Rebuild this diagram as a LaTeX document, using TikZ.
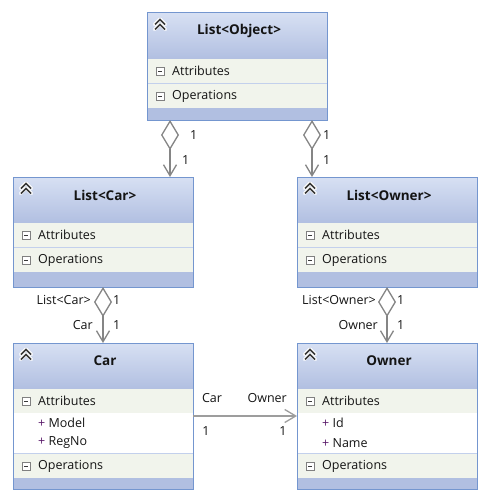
\documentclass[tikz,border=0pt]{standalone}
\usepackage{fontspec}
\setmainfont{Open Sans}
\usetikzlibrary{arrows.meta}
\definecolor{boxline}{HTML}{7496CF}
\definecolor{headtop}{HTML}{D7E0F3}
\definecolor{headbot}{HTML}{B1BFE1}
\definecolor{rowfill}{HTML}{F1F4EC}
\definecolor{rowline}{HTML}{C3D0EC}
\definecolor{linkgray}{HTML}{858585}
\definecolor{icongray}{HTML}{3A3A3A}
\definecolor{pluscol}{HTML}{5A1A6A}
\definecolor{txt}{HTML}{141414}
% #1 name, #2 left, #3 top, #4 height, #5 member space, #6 title
\newcommand{\classbox}[6]{
  \shade[top color=headtop, bottom color=headbot] (#2,#3) rectangle (#2+180,#3+46);
  \fill[rowfill] (#2,#3+46) rectangle (#2+180,#3+70);
  \draw[rowline] (#2,#3+70+#5) -- (#2+180,#3+70+#5);
  \fill[rowfill] (#2,#3+71+#5) rectangle (#2+180,#3+95+#5);
  \fill[headbot] (#2,#3+95+#5) rectangle (#2+180,#3+#4);
  \foreach \d in {0,5}{
    \draw[white, line width=3.4pt, line cap=round, line join=round] (#2+7.5,#3+11.5+\d) -- (#2+13,#3+6+\d) -- (#2+18.5,#3+11.5+\d);
    \draw[icongray, line width=1.6pt] (#2+8,#3+11.5+\d) -- (#2+13,#3+6.5+\d) -- (#2+18,#3+11.5+\d);
  }
  \foreach \r in {58,83+#5}{
    \draw[gray, fill=white] (#2+9,#3+\r-4) rectangle (#2+17,#3+\r+4);
    \draw[icongray] (#2+11,#3+\r) -- (#2+15,#3+\r);
  }
  \node[anchor=west] (#1a) at (#2+24,#3+58) {Attributes};
  \node[anchor=west] (#1o) at (#2+24,#3+83+#5) {Operations};
  \node[font=\fontsize{13.5}{15}\selectfont\bfseries] (#1t) at (#2+92,#3+18) {#6};
  \node[draw=boxline, line width=1pt, inner sep=0pt, outer sep=0pt, minimum width=180pt, minimum height=#4pt, anchor=north west] (#1) at (#2,#3) {};
}

\begin{document}
\begin{tikzpicture}[x=1pt,y=-1pt]
\tikzstyle{every node}=[font=\fontsize{12.5}{14}\selectfont, text=txt, inner sep=1pt]
\tikzstyle{agg}=[draw=linkgray, line width=1.3pt, {Diamond[open, fill=white, length=30pt, width=18pt]}-{Straight Barb[length=11pt, width=13pt]}]
\tikzstyle{assoc}=[draw=linkgray!80, line width=1.3pt, -{Straight Barb[length=11pt, width=13pt]}]
\useasboundingbox (0,0) rectangle (489,500);
\classbox{obj}{147}{13}{107}{0}{List<Object>}
\classbox{lcar}{13}{177}{110}{0}{List<Car>}
\classbox{lown}{297}{177}{110}{0}{List<Owner>}
\classbox{car}{13}{343}{146}{40}{Car}
\classbox{own}{297}{343}{146}{40}{Owner}
\node[anchor=west] (m1) at (37,423) {\textcolor{pluscol}{+} Model};
\node[anchor=west] (m2) at (37,443) {\textcolor{pluscol}{+} RegNo};
\node[anchor=west] (m3) at (321,423) {\textcolor{pluscol}{+} Id};
\node[anchor=west] (m4) at (321,443) {\textcolor{pluscol}{+} Name};
\coordinate (a1) at (170,0);
\coordinate (a2) at (312,0);
\draw[agg] (a1 |- obj.south) -- (a1 |- lcar.north);
\draw[agg] (a2 |- obj.south) -- (a2 |- lown.north);
\draw[agg] (lcar.south) -- (car.north);
\draw[agg] (lown.south) -- (own.north);
\draw[assoc] (car.east) -- (own.west);
\node[anchor=west] (n1) at (189,135) {1};
\node[anchor=west] (n2) at (181,160) {1};
\node[anchor=west] (n3) at (322,135) {1};
\node[anchor=west] (n4) at (322,160) {1};
\node[anchor=east] (n5) at (92,300) {List<Car>};
\node[anchor=west] (n6) at (112,300) {1};
\node[anchor=east] (n7) at (94,325) {Car};
\node[anchor=west] (n8) at (112,325) {1};
\node[anchor=east] (n9) at (377,300) {List<Owner>};
\node[anchor=west] (n10) at (396,300) {1};
\node[anchor=east] (n11) at (379,325) {Owner};
\node[anchor=west] (n12) at (396,325) {1};
\node (n13) at (212,398) {Car};
\node[anchor=east] (n14) at (288,398) {Owner};
\node (n15) at (206,431) {1};
\node (n16) at (283,431) {1};
\end{tikzpicture}
\end{document}
